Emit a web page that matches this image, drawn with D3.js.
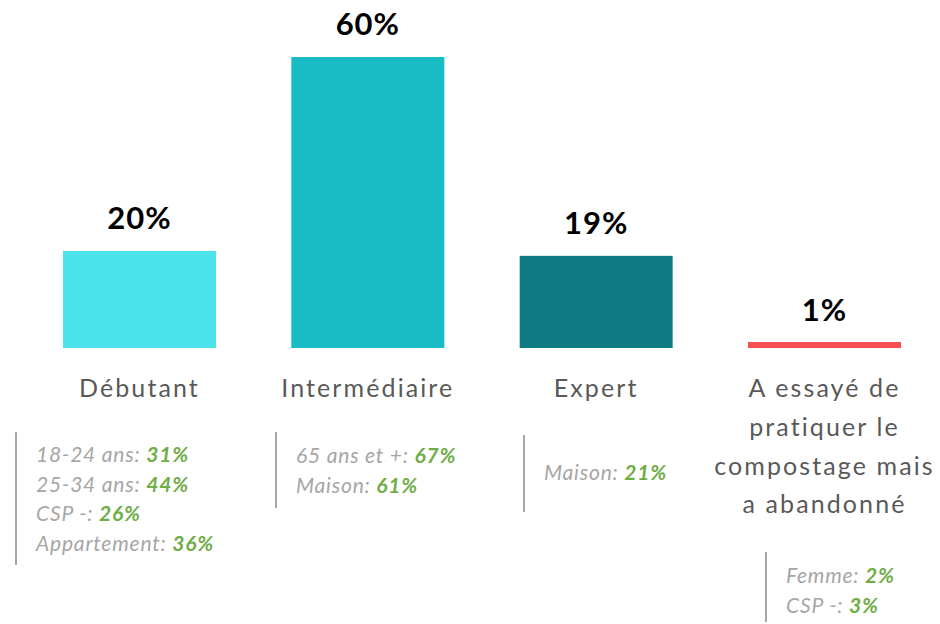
<!DOCTYPE html>
<html>
<head>
<meta charset="utf-8">
<script src="https://cdn.jsdelivr.net/npm/d3@7"></script>
<style>
  body { margin: 0; background: #fff; }
  svg { display: block; font-family: Lato, "Open Sans", sans-serif; }
</style>
</head>
<body>
<div id="chart"></div>
<script>
// data
var categories = ["Débutant", "Intermédiaire", "Expert", "Abandon"];
var labelLines = [
  ["Débutant"],
  ["Intermédiaire"],
  ["Expert"],
  ["A essayé de", "pratiquer le", "compostage mais", "a abandonné"]
];
var values = [20, 60, 19, 1];
var detailNames = [
  ["18-24 ans", "25-34 ans", "CSP -", "Appartement"],
  ["65 ans et +", "Maison"],
  ["Maison"],
  ["Femme", "CSP -"]
];
var detailValues = [
  [31, 44, 26, 36],
  [67, 61],
  [21],
  [2, 3]
];
var colors = ["#4de3ec", "#19bcc5", "#0f7c85", "#f5504f"];

// layout of the annotation boxes (left rule x, top, bottom, first text line)
var boxes = [
  { x: 16, y0: 432, y1: 565, t: 462 },
  { x: 276, y0: 432, y1: 508, t: 463 },
  { x: 524, y0: 435, y1: 512, t: 480 },
  { x: 766, y0: 552, y1: 622, t: 583 }
];

var width = 940, height = 624;
var baseY = 348;

var svg = d3.select("#chart").append("svg")
  .attr("width", width).attr("height", height);

var x = d3.scaleBand().domain(categories).range([63, 901])
  .paddingInner(0.33).paddingOuter(0);
var y = d3.scaleLinear().domain([0, 60]).range([baseY, 57]);

svg.selectAll("rect.bar").data(values).enter().append("rect")
  .attr("class", "bar")
  .attr("x", function(d, i) { return x(categories[i]); })
  .attr("y", function(d) { return Math.min(y(d), baseY - 6); })
  .attr("width", x.bandwidth())
  .attr("height", function(d) { return Math.max(baseY - y(d), 6); })
  .attr("fill", function(d, i) { return colors[i]; });

svg.selectAll("text.val").data(values).enter().append("text")
  .attr("class", "val")
  .attr("x", function(d, i) { return x(categories[i]) + x.bandwidth() / 2; })
  .attr("y", function(d) { return y(d) - 22; })
  .attr("text-anchor", "middle")
  .attr("font-size", 31).attr("font-weight", "bold").attr("fill", "#000")
  .attr("letter-spacing", 1)
  .text(function(d) { return d + "%"; });

var cat = svg.selectAll("text.cat").data(labelLines).enter().append("text")
  .attr("class", "cat")
  .attr("text-anchor", "middle")
  .attr("font-size", 25).attr("fill", "#595959")
  .attr("letter-spacing", 2.1);
cat.selectAll("tspan").data(function(d, i) {
    return d.map(function(s) { return { s: s, i: i }; });
  }).enter().append("tspan")
  .attr("x", function(d) { return x(categories[d.i]) + x.bandwidth() / 2; })
  .attr("y", function(d, j) { return 397 + j * 38.8; })
  .text(function(d) { return d.s; });

// detail boxes
boxes.forEach(function(b, i) {
  var g = svg.append("g");
  g.append("line")
    .attr("x1", b.x).attr("x2", b.x).attr("y1", b.y0).attr("y2", b.y1)
    .attr("stroke", "#a6a6a6").attr("stroke-width", 2);
  detailNames[i].forEach(function(n, j) {
    var t = g.append("text")
      .attr("x", b.x + 20).attr("y", b.t + j * 29.5)
      .attr("font-size", 21).attr("font-style", "italic")
      .attr("letter-spacing", 0.8);
    t.append("tspan").attr("fill", "#a6a6a6").text(n + ": ");
    t.append("tspan").attr("fill", "#70ad47").attr("font-weight", "bold")
      .text(detailValues[i][j] + "%");
  });
});
</script>
</body>
</html>
